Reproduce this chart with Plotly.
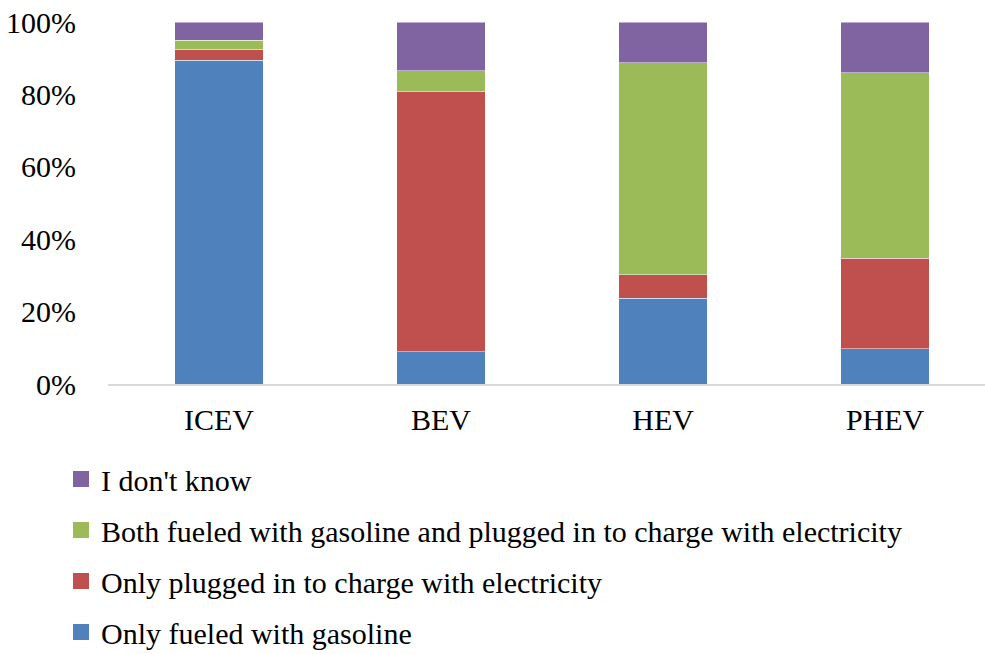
import plotly.graph_objects as go

# Share of respondents by vehicle type
vehicles = ['ICEV', 'BEV', 'HEV', 'PHEV']

only_gasoline = [0.895, 0.089, 0.237, 0.097]
only_plugged = [0.030, 0.718, 0.065, 0.251]
both = [0.024, 0.059, 0.586, 0.512]
dont_know = [0.051, 0.134, 0.112, 0.140]

series = [
    ('Only fueled with gasoline', only_gasoline, '#4F81BD'),
    ('Only plugged in to charge with electricity', only_plugged, '#C0504D'),
    ('Both fueled with gasoline and plugged in to charge with electricity', both, '#9BBB59'),
    ("I don't know", dont_know, '#8064A2'),
]

FONT = 'Liberation Serif, Times New Roman, serif'

fig = go.Figure()

for name, vals, col in series:
    fig.add_trace(go.Bar(
        x=vehicles, y=vals, name=name,
        marker=dict(color=col, line=dict(width=0.8, color='rgba(255,255,255,0.6)')),
        width=0.4,
        showlegend=False,
    ))

# legend-only entries (top to bottom), square swatches like the original
for name, vals, col in reversed(series):
    fig.add_trace(go.Scatter(
        x=[None], y=[None], mode='markers', name=name,
        marker=dict(symbol='square', size=16, color=col),
        legendgroup=name,
        hoverinfo='skip',
    ))

fig.update_layout(
    barmode='stack',
    width=985, height=654,
    plot_bgcolor='white', paper_bgcolor='white',
    font=dict(family=FONT, size=30, color='black'),
    margin=dict(l=108, r=0, t=22, b=270),
    xaxis=dict(
        range=[-0.5, 3.45],
        automargin=False,
        showgrid=False,
        showline=True, linecolor='#D9D9D9', linewidth=2,
        ticks='',
        ticklabelstandoff=8,
        tickfont=dict(size=30),
    ),
    yaxis=dict(
        range=[0, 1],
        automargin=False,
        tickvals=[0, 0.2, 0.4, 0.6, 0.8, 1.0],
        ticktext=['0%', '20%', '40%', '60%', '80%', '100%'],
        showgrid=False, zeroline=False, showline=False,
        ticks='',
        ticklabelstandoff=31,
        tickfont=dict(size=30),
    ),
    # y in container units so the legend does not squeeze the plot area
    legend=dict(
        traceorder='grouped',
        tracegroupgap=9,
        xref='paper', yref='container',
        x=(61 - 108) / 877, xanchor='left',
        y=1 - 453 / 654, yanchor='top',
        font=dict(family=FONT, size=30),
        bgcolor='rgba(0,0,0,0)',
    ),
)

# drop the default page margin so the figure sits at the window's corner
fig.write_html("out.html", config={'displayModeBar': False},
               post_script="document.body.style.margin='0px';")
